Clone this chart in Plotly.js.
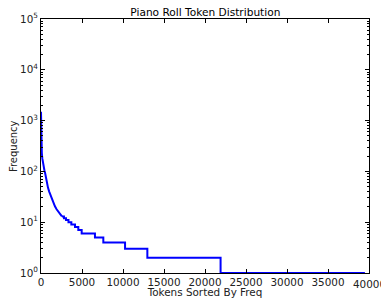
<!DOCTYPE html>
<html>
<head>
<meta charset="utf-8">
<script src="https://cdn.plot.ly/plotly-3.0.1.min.js"></script>
<style>html,body{margin:0;padding:0;background:#fff;}#chart{width:381px;height:298px;}</style>
</head>
<body>
<div id="chart"></div>
<script>
// Head of the distribution (high frequencies, near-continuous)
const headRank = [0, 10, 30, 60, 100, 160, 240, 330, 420, 500, 600, 720, 850, 1000, 1150, 1300, 1500, 1700, 1900, 2100, 2300, 2550];
const headFreq = [1500, 600, 380, 290, 230, 180, 145, 120, 104, 93, 75, 60, 48, 40, 34, 29, 24, 20.5, 18, 16, 14.8, 13];
// Tail: integer frequency levels, each starting at the given rank
const stepRank = [2550, 2800, 3050, 3350, 3700, 4150, 4550, 4960, 6580, 7600, 10250, 12970, 21900, 39500];
const stepFreq = [13, 12, 11, 10, 9, 8, 7, 6, 5, 4, 3, 2, 1, 1];
const xTicks = [0, 5000, 10000, 15000, 20000, 25000, 30000, 35000, 40000];
const yTickVals = [1, 10, 100, 1000, 10000, 100000];
const yTickText = ['10<sup>0</sup>', '10<sup>1</sup>', '10<sup>2</sup>', '10<sup>3</sup>', '10<sup>4</sup>', '10<sup>5</sup>'];

const font = 'DejaVu Sans, sans-serif';
const traces = [
  {x: headRank, y: headFreq, mode: 'lines', line: {color: '#0000ff', width: 2, shape: 'linear'}, hoverinfo: 'skip'},
  {x: stepRank, y: stepFreq, mode: 'lines', line: {color: '#0000ff', width: 2, shape: 'hv'}, hoverinfo: 'skip'}
];
const layout = {
  width: 381, height: 298,
  margin: {l: 41, r: 12, t: 19, b: 25, pad: 0},
  paper_bgcolor: '#fff', plot_bgcolor: '#fff',
  showlegend: false,
  font: {family: font, size: 10, color: '#000'},
  title: {text: 'Piano Roll Token Distribution', font: {family: font, size: 10.6, color: '#000'}, x: 0.539, xanchor: 'center', y: 0.972, yanchor: 'top'},
  xaxis: {
    range: [0, 40000], tickvals: xTicks.slice(0, -1), ticktext: xTicks.slice(0, -1).map(String),
    ticks: 'inside', ticklen: 4, tickcolor: '#000', showgrid: false, zeroline: false,
    showline: true, linecolor: '#000', linewidth: 1, mirror: 'allticks',
    tickfont: {family: font, size: 10.4, color: '#222'},
    title: {text: 'Tokens Sorted By Freq', font: {family: font, size: 10.4, color: '#222'}, standoff: 3}
  },
  yaxis: {
    type: 'log', range: [0, 5], tickvals: yTickVals, ticktext: yTickText,
    ticks: 'inside', ticklen: 4, tickcolor: '#000', showgrid: false, zeroline: false,
    showline: true, linecolor: '#000', linewidth: 1, mirror: 'allticks',
    tickfont: {family: font, size: 10.4, color: '#222'},
    minor: {ticks: 'inside', ticklen: 2, tickcolor: '#000', dtick: 'D1', showgrid: false}
  },
  annotations: [{
    x: xTicks[xTicks.length - 1], y: 0, xref: 'x', yref: 'paper', yshift: -3,
    text: String(xTicks[xTicks.length - 1]), showarrow: false, xanchor: 'center', yanchor: 'top',
    font: {family: font, size: 10.4, color: '#222'}
  }, {
    x: -0.085, y: 0.5, xref: 'paper', yref: 'paper', text: 'Frequency', textangle: -90,
    showarrow: false, xanchor: 'center', yanchor: 'middle',
    font: {family: font, size: 10, color: '#222'}
  }]
};
Plotly.newPlot('chart', traces, layout, {displayModeBar: false, staticPlot: true});
</script>
</body>
</html>
